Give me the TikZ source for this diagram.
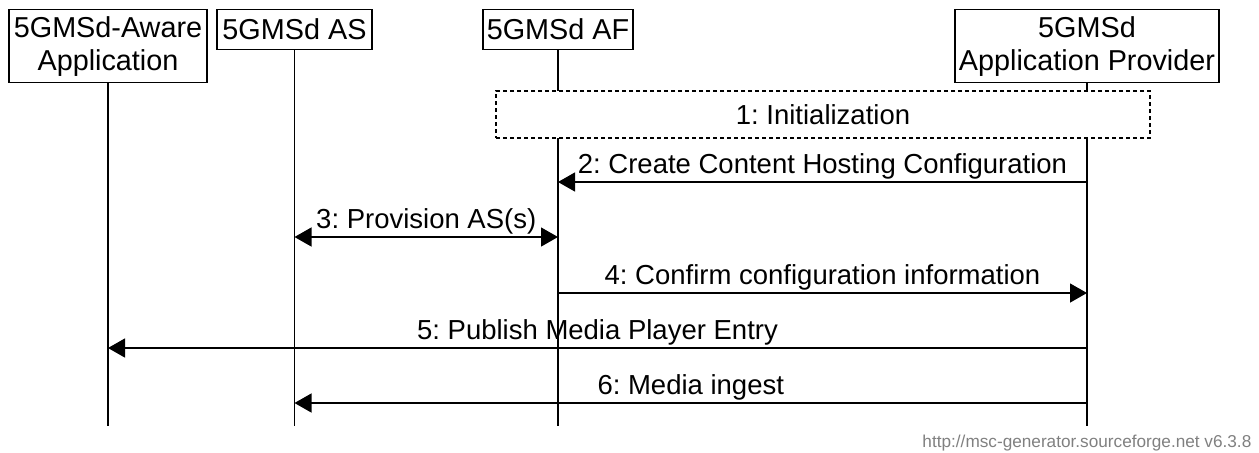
\documentclass[tikz,border=0pt]{standalone}
\usepackage{fontspec}
\setmainfont{Liberation Sans}
\usetikzlibrary{arrows.meta}
\usetikzlibrary{positioning}
\frenchspacing

\begin{document}
\begin{tikzpicture}[x=0.5pt,y=-0.5pt,line width=0.65pt,
  every node/.style={align=center,font=\fontsize{13.75}{16.5}\selectfont},
  entity/.style={draw,fill=white,inner sep=0pt,anchor=north,minimum height=20pt,font=\fontsize{14.4}{16.5}\selectfont},
  msg/.style={-{Triangle[length=8.5pt,width=9.5pt]}},
  twoway/.style={{Triangle[length=8.5pt,width=9.5pt]}-{Triangle[length=8.5pt,width=9.5pt]}},
  lbl/.style={midway,anchor=base,inner sep=0pt,yshift=4.5pt}]
\useasboundingbox (0,0) rectangle (1259,452);
\node[entity,minimum width=99pt,minimum height=36.5pt] (app) at (108,9) {5GMSd-Aware\\Application};
\node[entity,minimum width=77.5pt] (as) at (294.5,9) {5GMSd AS};
\node[entity,minimum width=75pt] (af) at (558,9) {5GMSd AF};
\node[entity,minimum width=132pt,minimum height=36.5pt] (prov) at (1087,9) {5GMSd\\Application Provider};
\coordinate (bottom) at (0,426);
\draw (app) -- (app |- bottom);
\draw (as) -- (as |- bottom);
\draw (af) -- (af |- bottom);
\draw (prov) -- (prov |- bottom);
\node[draw,dash pattern=on 2pt off 1.5pt,fill=white,inner sep=0pt,minimum width=327pt,minimum height=23.5pt] (init) at (823,114.5) {1: Initialization};
\coordinate (r2) at (0,182);
\coordinate (r3) at (0,237);
\coordinate (r4) at (0,293);
\coordinate (r5) at (0,348);
\coordinate (r6) at (0,403);
\draw[msg] (prov |- r2) -- (af |- r2) node[lbl] {2: Create Content Hosting Configuration};
\draw[twoway] (as |- r3) -- (af |- r3) node[lbl] {3: Provision AS(s)};
\draw[msg] (af |- r4) -- (prov |- r4) node[lbl] {4: Confirm configuration information};
\draw[msg] (prov |- r5) -- (app |- r5) node[lbl] {5: Publish Media Player Entry};
\draw[msg] (prov |- r6) -- (as |- r6) node[lbl] {6: Media ingest};
\node[anchor=base east,inner sep=0pt,text=gray,font=\fontsize{8.6}{9}\selectfont] (stamp) at (1252,447) {http://msc-generator.sourceforge.net v6.3.8};
\end{tikzpicture}
\end{document}
